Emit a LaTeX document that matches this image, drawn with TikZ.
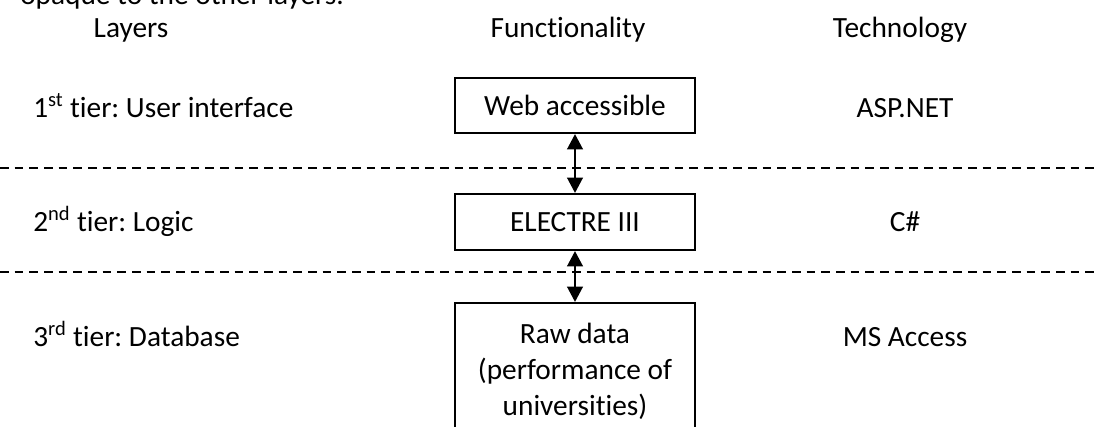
\documentclass[tikz,border=0pt]{standalone}
\usepackage{fontspec}
\setmainfont{Carlito}[Ligatures=NoCommon]
\usetikzlibrary{arrows.meta}
\frenchspacing
\begin{document}
\begin{tikzpicture}[x=0.75pt,y=-0.75pt,
  txt/.style={inner sep=0pt,font=\fontsize{22}{27}\selectfont},
  fbox/.style={draw,line width=1.5pt,minimum width=180pt,inner sep=0pt,align=center,font=\fontsize{22}{27}\selectfont},
  dline/.style={line width=1.5pt,dash pattern=on 6.5pt off 4.5pt},
  arr/.style={line width=2.2pt,{Triangle[length=11.5pt,width=11.5pt]}-{Triangle[length=11.5pt,width=11.5pt]}}]
\useasboundingbox (0,0) rectangle (1096,426);
\clip (0,0) rectangle (1096,426);
\node[txt,anchor=base west] (top) at (20,4) {opaque to the other layers.};
\node[txt,anchor=base] (hl) at (131,37) {Layers};
\node[txt,anchor=base] (hf) at (568,37) {Functionality};
\node[txt,anchor=base] (ht) at (900,37) {Technology};
\node[txt,anchor=base west] (l1) at (33,117) {1\textsuperscript{st} tier: User interface};
\node[txt,anchor=base west] (l2) at (33,231) {2\textsuperscript{nd} tier: Logic};
\node[txt,anchor=base west] (l3) at (33,346) {3\textsuperscript{rd} tier: Database};
\node[txt,anchor=base] (t1) at (905,117) {ASP.NET};
\node[txt,anchor=base] (t2) at (905,231) {C\#};
\node[txt,anchor=base] (t3) at (905,346) {MS Access};
\node[fbox,minimum height=41.25pt] (web) at (575,105.5) {Web accessible};
\node[fbox,minimum height=42pt] (elec) at (575,222) {ELECTRE III};
\node[fbox,minimum height=102pt] (raw) at (575,371) {Raw data\\(performance of\\universities)};
\coordinate (d1a) at (0,168); \coordinate (d1b) at (1096,168);
\coordinate (d2a) at (0,272); \coordinate (d2b) at (1096,272);
\draw[dline] (d1a) -- (d1b);
\draw[dline] (d2a) -- (d2b);
\draw[arr] (web.south) -- (elec.north);
\draw[arr] (elec.south) -- (raw.north);
\end{tikzpicture}
\end{document}
